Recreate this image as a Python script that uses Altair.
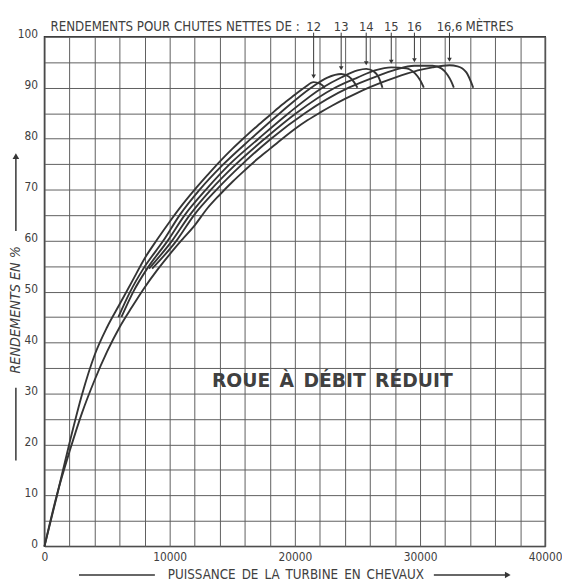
import altair as alt
import pandas as pd

heads = ["12", "13", "14", "15", "16", "16,6"]

x_12 = [0, 1000, 2000, 3000, 4000, 5000, 6000, 7000, 8000, 9000, 10000, 11000, 12000,
        13000, 14000, 15000, 16000, 17000, 18000, 19000, 20000, 20800, 21500, 22000, 22400]
y_12 = [0, 10.0, 20.3, 29.8, 37.5, 43, 47.5, 52, 56.5, 60.2, 63.7, 67, 70,
        72.8, 75.5, 78, 80.3, 82.5, 84.6, 86.7, 88.6, 90.1, 91.1, 90.8, 90]

x_13 = [5900, 6850, 7900, 9500, 10800, 12400, 14300, 16500, 18800, 21300, 22600, 23700, 24300, 24700, 25000]
y_13 = [45, 50, 54.5, 60, 65, 70, 75, 80, 85, 90, 92, 92.7, 92.2, 91.2, 90]

x_14 = [6150, 7100, 8200, 9850, 11200, 12900, 14800, 17100, 19500, 22200, 23700, 25000, 25700, 26300, 26700, 27000]
y_14 = [45, 50, 54.5, 60, 65, 70, 75, 80, 85, 90, 92, 93.4, 93.7, 93.2, 92, 90]

x_15 = [8350, 10200, 11600, 13300, 15300, 17600, 20100, 23200, 25000, 26400, 27700, 28900, 29600, 30000, 30300]
y_15 = [54.5, 60, 65, 70, 75, 80, 85, 90, 92, 93.4, 94.0, 93.8, 92.8, 91.5, 90]

x_16 = [8600, 10550, 11950, 13750, 15800, 18100, 20800, 24300, 26380, 28000, 29550, 31000, 31700, 32200, 32500, 32700]
y_16 = [54.5, 60, 65, 70, 75, 80, 85, 90, 92.1, 93.5, 94.3, 94.3, 93.8, 92.5, 91.2, 90]

x_166 = [0, 1000, 2000, 3000, 4000, 5000, 6000, 7000, 8000, 9000, 10000, 11000, 12000, 13000,
         14000, 15000, 16000, 17000, 18000, 19000, 20000, 21000, 22000, 23000, 24000, 25000,
         26000, 27000, 28000, 29000, 30000, 31000, 32350, 33000, 33700, 34250]
y_166 = [0, 10.2, 18.6, 26.2, 32.6, 38.2, 43, 47, 50.8, 54.2, 57.3, 60.2, 63, 66.3,
         69, 71.5, 73.8, 76, 78, 80, 81.9, 83.6, 85.1, 86.5, 87.8, 89,
         90.1, 91.1, 92, 92.8, 93.5, 94, 94.4, 94.2, 93, 90]

peak_x = [21500, 23700, 25700, 27700, 29550, 32350]
peak_y = [91.1, 92.7, 93.7, 94.0, 94.3, 94.4]

x_ticks = list(range(0, 40001, 2000))
y_ticks = list(range(0, 101, 5))

rows = []
for h, xs, ys in zip(heads, [x_12, x_13, x_14, x_15, x_16, x_166],
                     [y_12, y_13, y_14, y_15, y_16, y_166]):
    for i, (a, b) in enumerate(zip(xs, ys)):
        rows.append({"head": h, "x": a, "y": b, "i": i})
df = pd.DataFrame(rows)
peaks = pd.DataFrame({"head": heads, "x": peak_x, "y": peak_y})
one = pd.DataFrame({"a": [0]})

FONT = "DejaVu Sans Condensed"
INK = "#353535"
TXT = "#404040"
SP = "\u2002"

xscale = alt.Scale(domain=[0, 40000], nice=False, zero=True)
yscale = alt.Scale(domain=[0, 100], nice=False, zero=True)

xaxis = alt.Axis(values=x_ticks, title=None, ticks=False, domain=False, grid=True,
                 labelExpr="datum.value % 10000 === 0 ? format(datum.value, 'd') : ''",
                 labelPadding=5, labelFlush=False, labelOverlap=False)
yaxis = alt.Axis(values=y_ticks, title=None, ticks=False, domain=False, grid=True,
                 labelExpr="datum.value % 10 === 0 ? format(datum.value, 'd') : ''",
                 labelPadding=7, labelOffset=-3, labelFlush=False, labelOverlap=False)

X = lambda f: alt.X(f, scale=xscale, axis=xaxis)
Y = lambda f: alt.Y(f, scale=yscale, axis=yaxis)

lines = alt.Chart(df).mark_line(interpolate="monotone", color=INK, strokeWidth=1.9).encode(
    x=X("x:Q"),
    y=Y("y:Q"),
    detail="head:N",
    order="i:Q",
)

arrows = alt.Chart(peaks).transform_calculate(
    top="100.8", tip="datum.y + 1.4"
).mark_rule(color=INK, strokeWidth=1).encode(
    x=X("x:Q"),
    y=Y("top:Q"),
    y2="tip:Q",
)

heads_pts = alt.Chart(peaks).transform_calculate(
    tip="datum.y + 1.1"
).mark_point(shape="triangle-down", filled=True, size=22, color=INK, opacity=1).encode(
    x=X("x:Q"),
    y=Y("tip:Q"),
)

nums = alt.Chart(peaks).mark_text(font=FONT, fontSize=13, color=TXT, baseline="middle").encode(
    x=X("x:Q"),
    y=alt.value(-10),
    text="head:N",
)

def label(text, x, y, font=FONT, **kw):
    return alt.Chart(one).mark_text(text=text, font=font, color=TXT, **kw).encode(
        x=alt.value(x), y=alt.value(y))

def hrule(x1, x2, y):
    return alt.Chart(one).mark_rule(color=INK, strokeWidth=1.5).encode(
        x=alt.value(x1), x2=alt.value(x2), y=alt.value(y))

def vrule(x, y1, y2):
    return alt.Chart(one).mark_rule(color=INK, strokeWidth=1.5).encode(
        x=alt.value(x), y=alt.value(y1), y2=alt.value(y2))

def head(shape, x, y, size=40):
    return alt.Chart(one).mark_point(shape=shape, filled=True, size=size, color=INK, opacity=1).encode(
        x=alt.value(x), y=alt.value(y))

top_title = label("RENDEMENTS POUR CHUTES NETTES DE :", 6, -10, fontSize=13.4, align="left", baseline="middle")
metres = label("MÈTRES", 427, -10, fontSize=13.4, align="left", baseline="middle")
ytitle = label("RENDEMENTS EN %", -29, 277, fontSize=14.5, angle=270, align="center",
               baseline="middle", fontStyle="italic")
xtitle = label(SP.join(["PUISSANCE", "DE", "LA", "TURBINE", "EN", "CHEVAUX"]), 255, 546,
               fontSize=13.5, align="center", baseline="middle")
roue = label(SP.join(["ROUE", "À", "DÉBIT", "RÉDUIT"]), 292, 349, font="DejaVu Sans", fontSize=19,
             fontWeight="bold", align="center", baseline="middle")

chart = alt.layer(
    lines, arrows, heads_pts, nums,
    top_title, metres, ytitle, xtitle, roue,
    vrule(-29, 120, 197), head("triangle-up", -29, 121, 45),
    vrule(-29, 356, 430),
    hrule(35, 112, 546), hrule(395, 470, 546), head("triangle-right", 470, 546, 45),
).properties(
    width=508, height=517,
    autosize=alt.AutoSizeParams(type="none"),
    padding={"left": 37, "top": 25, "right": 17, "bottom": 34},
    background="white",
).configure_view(
    stroke=INK, strokeWidth=1.5
).configure_axis(
    gridColor="#5e5e5e", gridWidth=1, gridOpacity=1,
    labelFont=FONT, labelFontSize=12, labelColor=TXT
)

chart.save("out.html", embed_options={"renderer": "svg", "actions": False})
